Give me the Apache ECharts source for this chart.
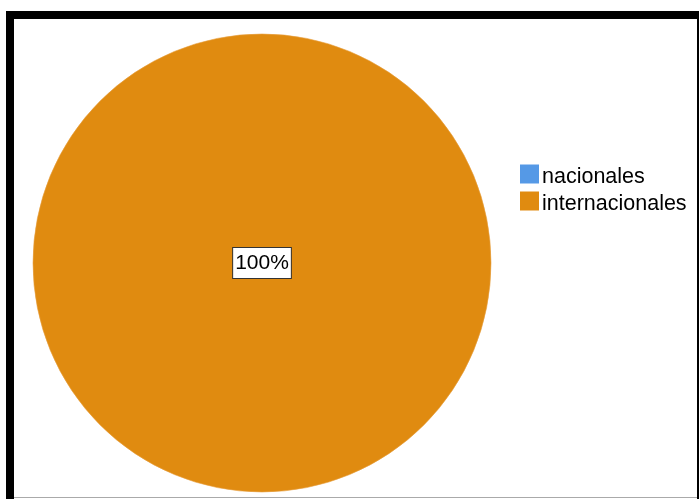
<!DOCTYPE html>
<html>
<head>
<meta charset="utf-8">
<script src="https://cdn.jsdelivr.net/npm/echarts@6/dist/echarts.min.js"></script>
<style>
  html, body { margin: 0; padding: 0; background: #fff; }
  #chart { width: 699px; height: 499px; }
</style>
</head>
<body>
<div id="chart"></div>
<script>
// Categories, values and colours of the pie
const categories = ['nacionales', 'internacionales'];
const values = [0, 100];
const colors = ['#5599E6', '#E08B10'];

const chart = echarts.init(document.getElementById('chart'));

const pieData = categories.map((name, i) => ({
  name: name,
  value: values[i],
  itemStyle: { color: colors[i] },
  label: { show: values[i] > 0 }
}));

chart.setOption({
  animation: false,
  backgroundColor: '#ffffff',
  legend: {
    orient: 'vertical',
    left: 520,
    top: 160,
    padding: 0,
    icon: 'rect',
    itemWidth: 19,
    itemHeight: 19,
    itemGap: -1,
    itemStyle: { borderWidth: 0 },
    formatter: name => '{t|' + name + '}',
    textStyle: {
      color: '#000',
      rich: {
        t: { fontFamily: 'Liberation Sans, Arial, sans-serif', fontSize: 21.5, color: '#000', lineHeight: 22, padding: [6, 0, 0, -2] }
      }
    },
    data: categories
  },
  series: [{
    type: 'pie',
    center: [262, 263],
    radius: 229,
    startAngle: 90,
    clockwise: true,
    stillShowZeroSum: false,
    data: pieData,
    itemStyle: { borderColor: '#E8A040', borderWidth: 0.6 },
    label: {
      position: 'center',
      formatter: '{d}%',
      fontFamily: 'Liberation Sans, Arial, sans-serif',
      fontSize: 21,
      color: '#000',
      backgroundColor: '#fff',
      borderColor: '#333',
      borderWidth: 1,
      padding: [6, 2, 3, 2]
    },
    labelLine: { show: false },
    emphasis: { disabled: true }
  }],
  graphic: [
    // frame: heavy top and left edges, thin right and bottom edges
    { type: 'rect', shape: { x: 6, y: 11, width: 693, height: 8 }, style: { fill: '#000' }, silent: true },
    { type: 'rect', shape: { x: 6, y: 11, width: 8, height: 488 }, style: { fill: '#000' }, silent: true },
    { type: 'rect', shape: { x: 697, y: 11, width: 2, height: 488 }, style: { fill: '#000' }, silent: true },
    { type: 'rect', shape: { x: 14, y: 497, width: 683, height: 1 }, style: { fill: '#aaa' }, silent: true }
  ]
});
</script>
</body>
</html>
